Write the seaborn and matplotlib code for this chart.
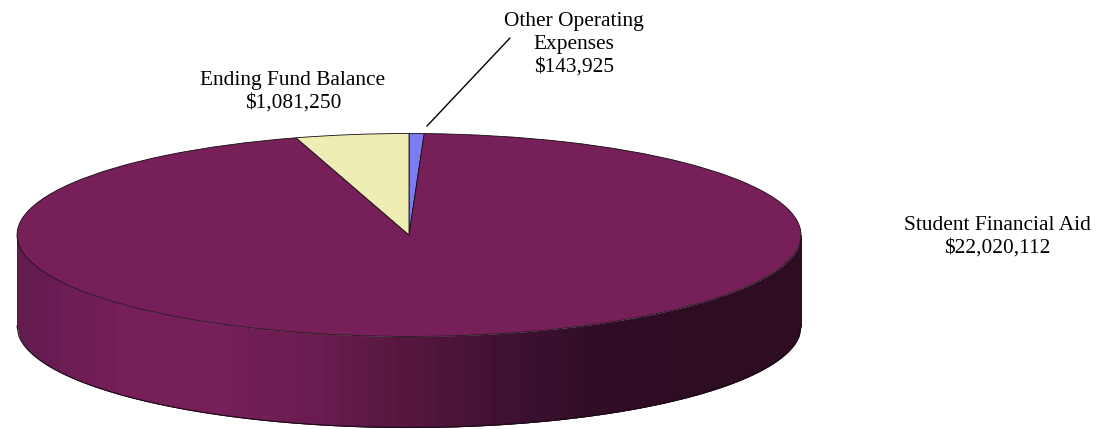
import numpy as np
import seaborn as sns
import matplotlib.pyplot as plt

# Värden
labels = ['Other Operating\nExpenses\n$143,925', 'Student Financial Aid\n$22,020,112', 'Ending Fund Balance\n$1,081,250']
values = [143925, 22020112, 1081250]
colors = ['#7a7df0', '#771f59', '#eeeeb4']
wall_stops = ['#641b50', '#771f59', '#771f59', '#691c50', '#55163f', '#3f1032', '#300d25', '#2e0c22', '#2e0c22']

sns.set_theme(style='white')
plt.rcParams['font.family'] = ['Liberation Serif', 'DejaVu Serif']

W, H = 1100, 429
cx, cy = 409, 235
rx, ry = 392, 101.5
depth = 91

fig = plt.figure(figsize=(W / 100, H / 100), dpi=100)
ax = fig.add_axes([0, 0, 1, 1])

# Sidan av kakan, varje remsa överlappar nästa så att inga glipor syns
n_strips = 56
wall = sns.blend_palette(wall_stops, n_strips)
edges = np.linspace(-1, 1, n_strips + 1)
for i in range(n_strips):
    x = np.linspace(edges[i], edges[min(i + 2, n_strips)], 12)
    top = -np.sqrt(np.clip(1 - x ** 2, 0, None))
    ax.fill_between(x, top, top - depth / ry, color=wall[i], lw=0, antialiased=False, zorder=1)

# Konturen runt sidan
x = np.linspace(-1, 1, 400)
low = -np.sqrt(1 - x ** 2) - depth / ry
ax.plot(x, low, color='#1a0a15', lw=0.8, zorder=2)
ax.plot([-1, -1], [0, -depth / ry], color='#2a0a22', lw=0.6, zorder=2)
ax.plot([1, 1], [0, -depth / ry], color='#1a0a15', lw=0.6, zorder=2)

# Ovansidan
ax.pie(values, colors=colors, startangle=90, counterclock=False, radius=1,
       wedgeprops={'edgecolor': '#140a10', 'linewidth': 0.6, 'zorder': 3})
ax.set_aspect('auto')
ax.set_xlim(-cx / rx, (W - cx) / rx)
ax.set_ylim(-(H - cy) / ry, cy / ry)
ax.axis('off')

# Linje till den lilla sektorn
ax.plot([(427 - cx) / rx, (510 - cx) / rx], [(cy - 126) / ry, (cy - 38) / ry], color='black', lw=1, zorder=4)

# Etiketter
fig.text(574 / W, 1 - 44.5 / H, labels[0], ha='center', va='center', fontsize=15.4, color='black', linespacing=1.27)
fig.text(997 / W, 1 - 237 / H, labels[1], ha='center', va='center', fontsize=15.4, color='black', linespacing=1.27)
fig.text(293 / W, 1 - 92 / H, labels[2], ha='center', va='center', fontsize=15.4, color='black', linespacing=1.27)

fig.savefig('out.png', dpi=100, facecolor='white')
